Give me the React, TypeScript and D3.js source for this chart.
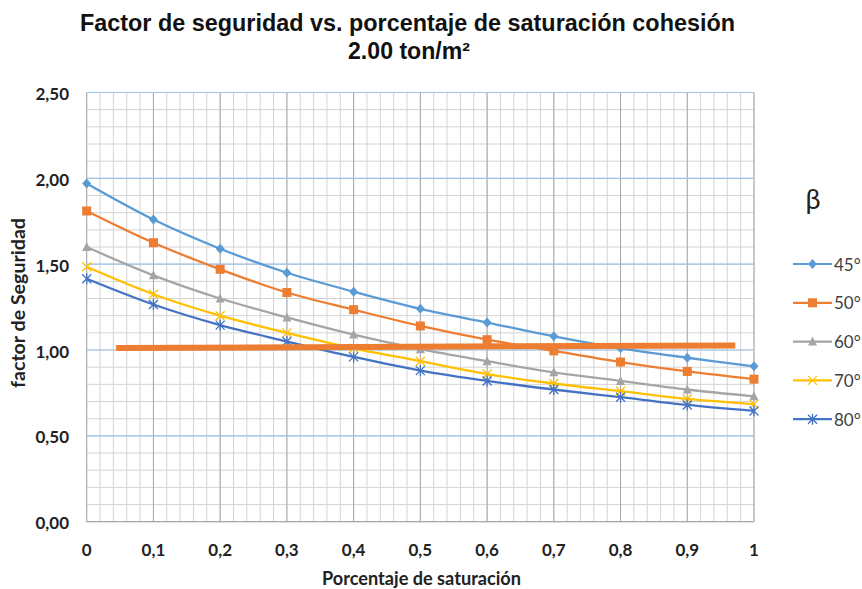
import React from 'react';
import * as d3 from 'd3';

const saturation = [0, 0.1, 0.2, 0.3, 0.4, 0.5, 0.6, 0.7, 0.8, 0.9, 1];
const fs45 = [1.97, 1.76, 1.59, 1.45, 1.34, 1.24, 1.16, 1.08, 1.01, 0.955, 0.905];
const fs50 = [1.81, 1.625, 1.47, 1.335, 1.235, 1.14, 1.06, 0.995, 0.93, 0.875, 0.83];
const fs60 = [1.60, 1.435, 1.30, 1.19, 1.09, 1.005, 0.935, 0.87, 0.82, 0.77, 0.73];
const fs70 = [1.485, 1.325, 1.20, 1.10, 1.01, 0.935, 0.86, 0.805, 0.76, 0.715, 0.685];
const fs80 = [1.415, 1.265, 1.145, 1.05, 0.96, 0.88, 0.82, 0.77, 0.725, 0.68, 0.645];
const seriesNames = ['45°', '50°', '60°', '70°', '80°'];
const seriesColors = ['#5B9BD5', '#ED7D31', '#A5A5A5', '#FFC000', '#4472C4'];
const seriesMarkers = ['diamond', 'square', 'triangle', 'x', 'star'];
const seriesValues = [fs45, fs50, fs60, fs70, fs80];
const limitX = [0.044, 0.972];
const limitY = [1.012, 1.027];
const xTicks = [0, 0.1, 0.2, 0.3, 0.4, 0.5, 0.6, 0.7, 0.8, 0.9, 1];
const yTicks = [0, 0.5, 1, 1.5, 2, 2.5];

const W = 862, H = 589;
const x = d3.scaleLinear().domain([0, 1]).range([86.7, 754]);
const y = d3.scaleLinear().domain([0, 2.5]).range([521.7, 92.5]);

const fmt = (v: number) => v.toFixed(2).replace('.', ',');
const fmtX = (v: number) => (v === 0 ? '0' : v === 1 ? '1' : v.toFixed(1).replace('.', ','));

function Marker({ kind, cx, cy, color }: { kind: string; cx: number; cy: number; color: string }) {
  const s = 4.5;
  if (kind === 'diamond')
    return <path d={`M${cx},${cy - s - 0.5}L${cx + s},${cy}L${cx},${cy + s + 0.5}L${cx - s},${cy}Z`} fill={color} />;
  if (kind === 'square')
    return <rect x={cx - s} y={cy - s} width={2 * s} height={2 * s} fill={color} />;
  if (kind === 'triangle')
    return <path d={`M${cx},${cy - s - 0.5}L${cx + s},${cy + s - 0.5}L${cx - s},${cy + s - 0.5}Z`} fill={color} />;
  if (kind === 'x')
    return (
      <path d={`M${cx - s},${cy - s}L${cx + s},${cy + s}M${cx - s},${cy + s}L${cx + s},${cy - s}`} stroke={color} strokeWidth={1.3} />
    );
  return (
    <path
      d={`M${cx - s},${cy - s}L${cx + s},${cy + s}M${cx - s},${cy + s}L${cx + s},${cy - s}M${cx},${cy - s - 1}L${cx},${cy + s + 1}`}
      stroke={color}
      strokeWidth={1.3}
    />
  );
}

export default function App() {
  const minorX = d3.range(0, 51).map((i) => i / 50);
  const minorY = d3.range(0, 26).map((i) => i / 10);
  const line = d3
    .line<[number, number]>()
    .x((d) => x(d[0]))
    .y((d) => y(d[1]))
    .curve(d3.curveCatmullRom.alpha(0.5));
  const tickFont = 'Lato, "Open Sans", sans-serif';
  const titleFont = "'Liberation Sans Narrow', 'Liberation Sans', Arial, sans-serif";
  return (
    <svg width={W} height={H} style={{ position: 'absolute', left: 0, top: 0, background: '#fff' }}>
      <rect x={0} y={0} width={W} height={H} fill="#fff" />
      <text x={80} y={31} fontFamily={titleFont} fontWeight="bold" fontSize={23} fill="#111" textLength={655} lengthAdjust="spacingAndGlyphs">
        Factor de seguridad vs. porcentaje de saturación cohesión
      </text>
      <text x={348} y={59} fontFamily={titleFont} fontWeight="bold" fontSize={23} fill="#111" textLength={122} lengthAdjust="spacingAndGlyphs">
        2.00 ton/m²
      </text>
      {/* minor grid */}
      {minorX.map((v, i) => (
        <line key={'mx' + i} x1={x(v)} x2={x(v)} y1={y(0)} y2={y(2.5)} stroke="#D4D4D4" strokeWidth={1} />
      ))}
      {minorY.map((v, i) => (
        <line key={'my' + i} x1={x(0)} x2={x(1)} y1={y(v)} y2={y(v)} stroke="#D4D4D4" strokeWidth={1} />
      ))}
      {xTicks.map((v, i) => (
        <line key={'Mx' + i} x1={x(v)} x2={x(v)} y1={y(0)} y2={y(2.5)} stroke="#A8A8A8" strokeWidth={1} />
      ))}
      {yTicks.map((v, i) => (
        <line key={'My' + i} x1={x(0)} x2={x(1)} y1={y(v)} y2={y(v)} stroke={v === 0 ? '#A8A8A8' : '#9DC3E6'} strokeWidth={1.2} />
      ))}
      {/* series */}
      {seriesValues.map((vals, si) => (
        <path
          key={'l' + si}
          d={line(saturation.map((s, i) => [s, vals[i]] as [number, number])) || ''}
          fill="none"
          stroke={seriesColors[si]}
          strokeWidth={2.3}
        />
      ))}
      {seriesValues.map((vals, si) =>
        saturation.map((s, i) => (
          <Marker key={'m' + si + '-' + i} kind={seriesMarkers[si]} cx={x(s)} cy={y(vals[i])} color={seriesColors[si]} />
        ))
      )}
      {/* FS = 1 reference */}
      <line x1={x(limitX[0])} x2={x(limitX[1])} y1={y(limitY[0])} y2={y(limitY[1])} stroke="#ED7D31" strokeWidth={6} />
      {/* y ticks */}
      {yTicks.map((v, i) => (
        <text key={'yt' + i} x={69} y={y(v) + 7.5} textAnchor="end" fontFamily={tickFont} fontWeight="bold" fontSize={17} fill="#222">
          {fmt(v)}
        </text>
      ))}
      {xTicks.map((v, i) => (
        <text key={'xt' + i} x={x(v)} y={556} textAnchor="middle" fontFamily={tickFont} fontWeight="bold" fontSize={17} fill="#222">
          {fmtX(v)}
        </text>
      ))}
      <text x={322} y={585} fontFamily={tickFont} fontWeight="bold" fontSize={18} fill="#222" textLength={199} lengthAdjust="spacingAndGlyphs">
        Porcentaje de saturación
      </text>
      <text transform="translate(25,388) rotate(-90)" fontFamily={tickFont} fontWeight="bold" fontSize={18} fill="#222" textLength={170} lengthAdjust="spacingAndGlyphs">
        factor de Seguridad
      </text>
      {/* legend */}
      <text x={813} y={209} textAnchor="middle" fontFamily={tickFont} fontSize={27} fill="#222">
        β
      </text>
      {seriesNames.map((n, i) => {
        const ly = 264 + i * 38.8;
        return (
          <g key={'lg' + i}>
            <line x1={793} x2={832} y1={ly} y2={ly} stroke={seriesColors[i]} strokeWidth={2.2} />
            <Marker kind={seriesMarkers[i]} cx={812.5} cy={ly} color={seriesColors[i]} />
            <text x={834} y={ly + 6.5} fontFamily={tickFont} fontSize={17} fill="#404040">
              {n}
            </text>
          </g>
        );
      })}
    </svg>
  );
}
